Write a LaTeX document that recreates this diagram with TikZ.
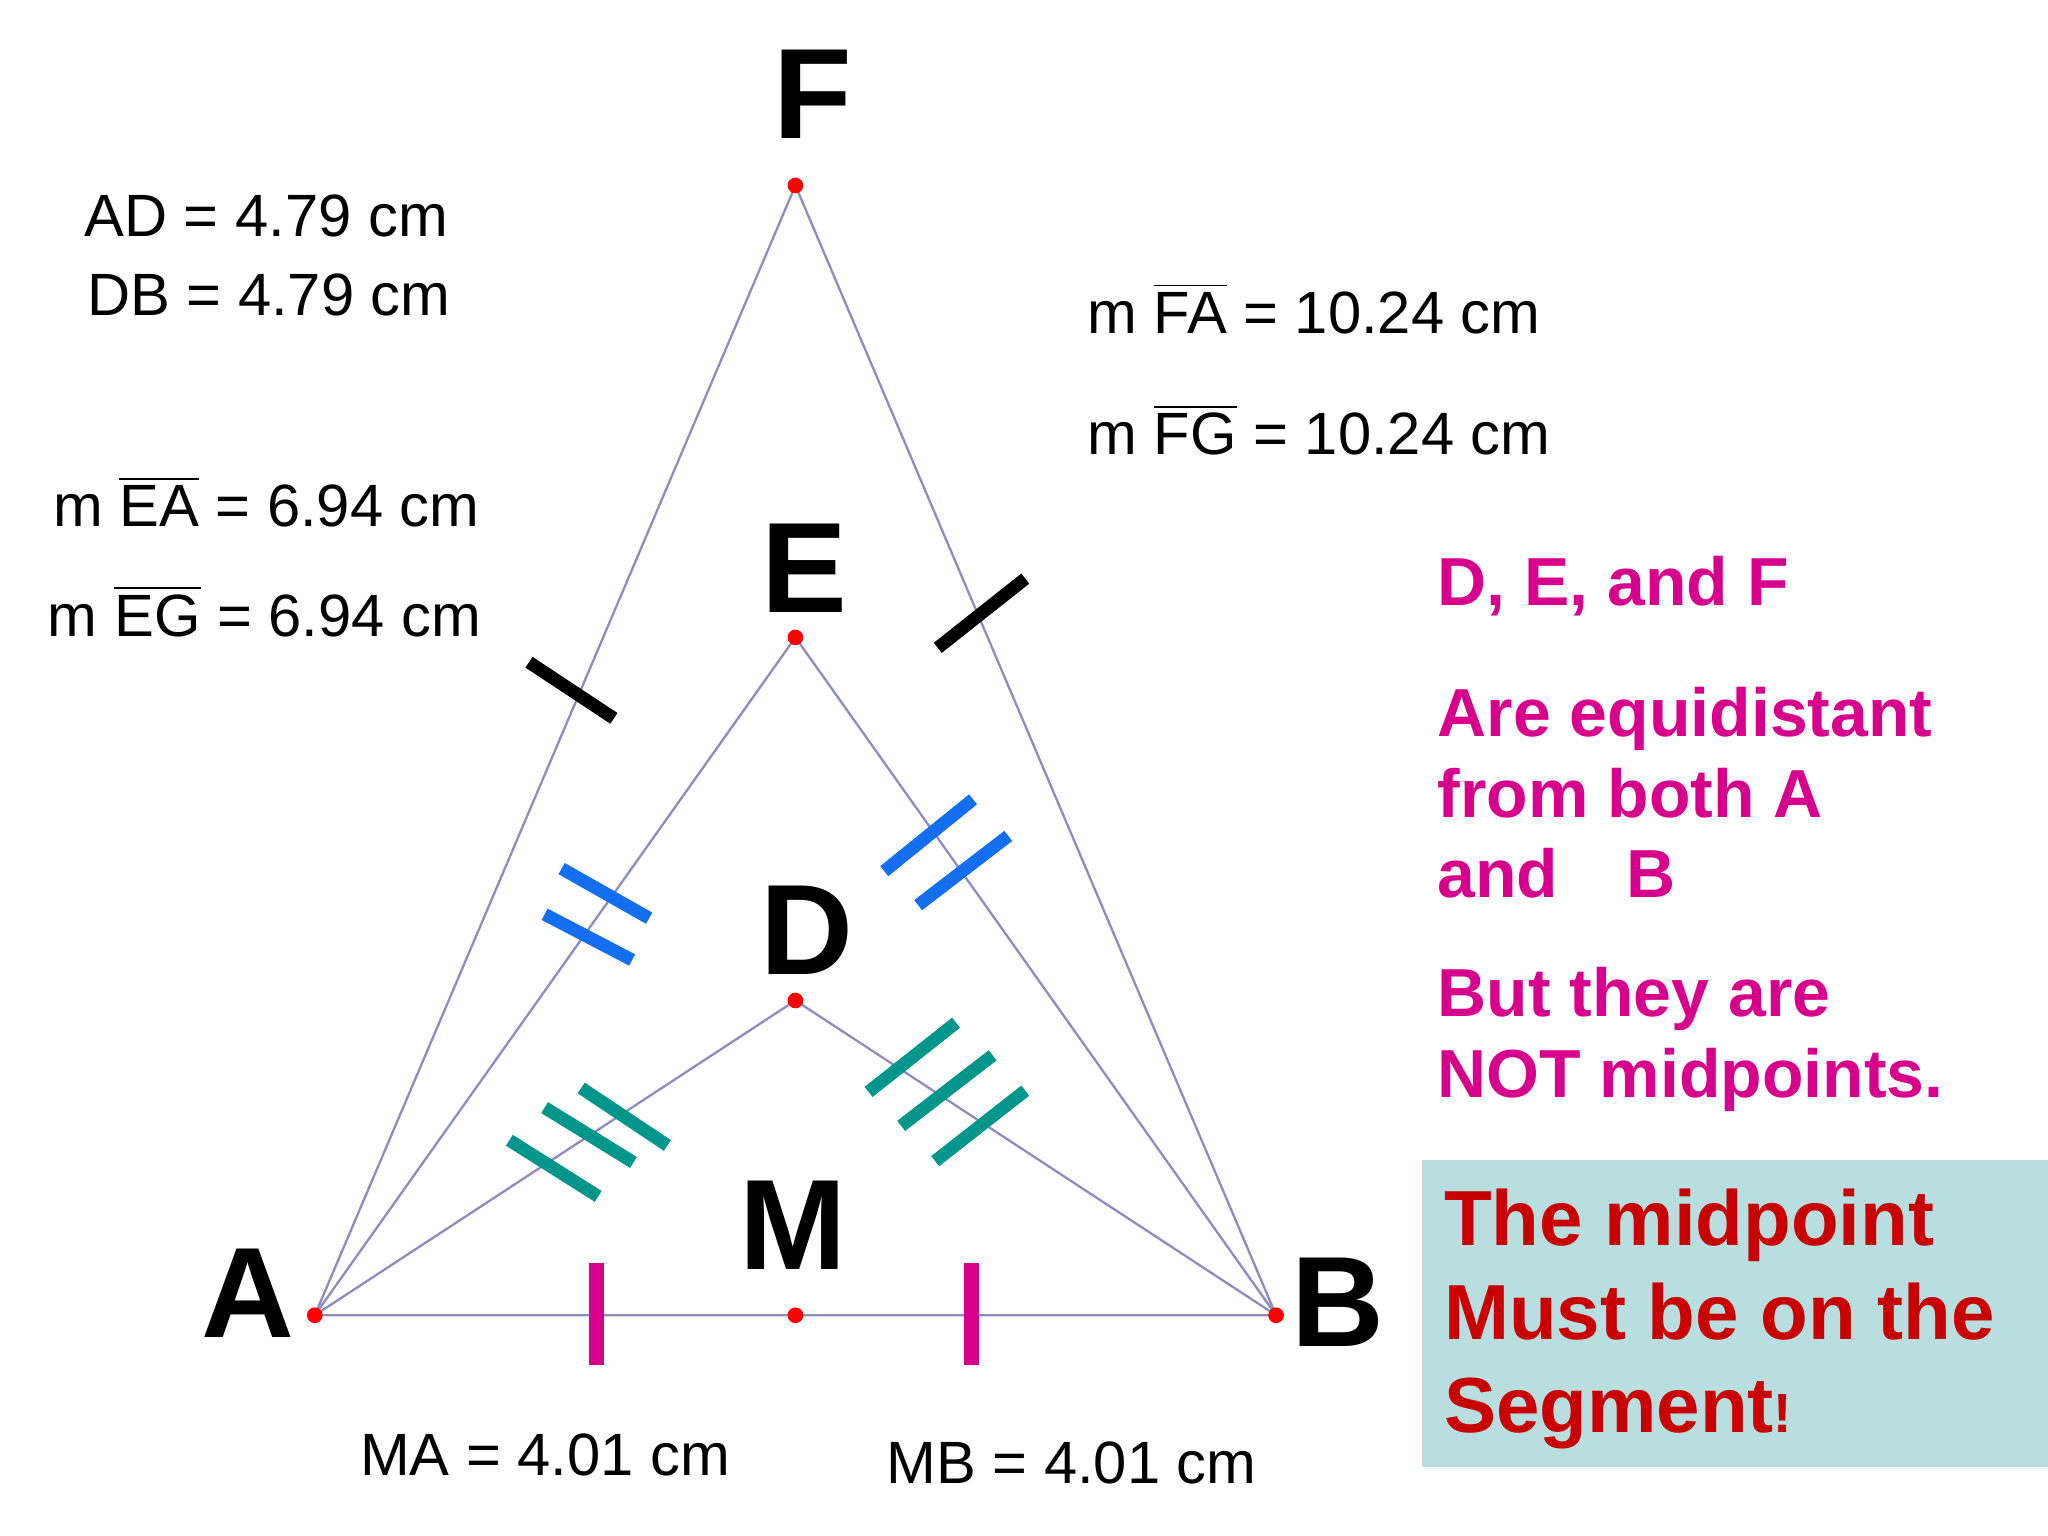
\documentclass[tikz,border=0pt]{standalone}
\usepackage{fontspec}
\setmainfont{Liberation Sans}
\definecolor{seg}{RGB}{140,140,190}
\definecolor{tblue}{RGB}{20,110,240}
\definecolor{tteal}{RGB}{0,150,140}
\definecolor{tmag}{RGB}{215,0,140}
\definecolor{tred}{RGB}{200,0,0}
\definecolor{boxc}{RGB}{184,222,224}
\begin{document}
\begin{tikzpicture}[x=0.01cm,y=-0.01cm,
  seg/.style={draw=seg,line width=0.5pt},
  dot/.style={circle,fill=red,inner sep=0pt,minimum size=0.12cm},
  big/.style={font=\fontsize{28}{30}\selectfont\bfseries},
  meas/.style={font=\fontsize{13}{15}\selectfont,anchor=west,inner sep=0pt},
  pink/.style={font=\fontsize{14.8}{17.6}\selectfont\bfseries,text=tmag,anchor=west,align=left,inner sep=0pt},
  tick/.style={line width=2.8pt}]
\useasboundingbox (0,0) rectangle (1568,1176);
\fill[boxc] (1089,888) rectangle (1568,1123);
\coordinate (F) at (609,142);
\coordinate (E) at (609,488);
\coordinate (D) at (609,766);
\coordinate (M) at (609,1007);
\coordinate (A) at (241,1007);
\coordinate (B) at (977,1007);
\draw[seg] (A)--(F)--(B) (A)--(E)--(B) (A)--(D)--(B) (A)--(B);
\foreach \p in {F,E,D,M,A,B} \node[dot] at (\p) {};
% ticks
\draw[tick,black] (405,507)--(470,550) (718,496)--(785,443);
\draw[tick,tblue] (430,665)--(497,703) (417,700)--(484,735) (677,667)--(745,612) (703,693)--(772,640);
\draw[tick,tteal] (445,833)--(511,877) (417,848)--(485,890) (390,873)--(458,916)
  (665,836)--(732,783) (690,862)--(760,808) (716,889)--(785,835);
\draw[line width=3.3pt,tmag] (457,967)--(457,1045) (744,967)--(744,1045);
% labels
\node[big] (lF) at (622,72) {F};
\node[big] (lE) at (616,435) {E};
\node[big] (lD) at (618,712) {D};
\node[big] (lM) at (607,938) {M};
\node[big] (lA) at (190,990) {A};
\node[big] (lB) at (1024,997) {B};
\node[meas] (t1) at (64,165) {AD = 4.79 cm};
\node[meas] (t2) at (66,226) {DB = 4.79 cm};
\node[meas] (t3) at (832,236) {m $\overline{\hbox{FA}}$ = 10.24 cm};
\node[meas] (t4) at (832,329) {m $\overline{\hbox{FG}}$ = 10.24 cm};
\node[meas] (t5) at (40,384) {m $\overline{\hbox{EA}}$ = 6.94 cm};
\node[meas] (t6) at (36,468) {m $\overline{\hbox{EG}}$ = 6.94 cm};
\node[meas] (t7) at (275,1114) {MA = 4.01 cm};
\node[meas] (t8) at (678,1120) {MB = 4.01 cm};
\node[pink] (p1) at (1100,449) {D, E, and F};
\node[pink] (p2) at (1100,607) {Are equidistant\\from both A\\and\quad B};
\node[pink] (p3) at (1100,796) {But they are\\NOT midpoints.};
\node[anchor=west,align=left,inner sep=0pt,text=tred,font=\fontsize{17}{20.4}\selectfont\bfseries] (r) at (1105,1010) {The midpoint\\Must be on the\\Segment{\fontsize{12}{12}\selectfont!}};
\end{tikzpicture}
\end{document}
